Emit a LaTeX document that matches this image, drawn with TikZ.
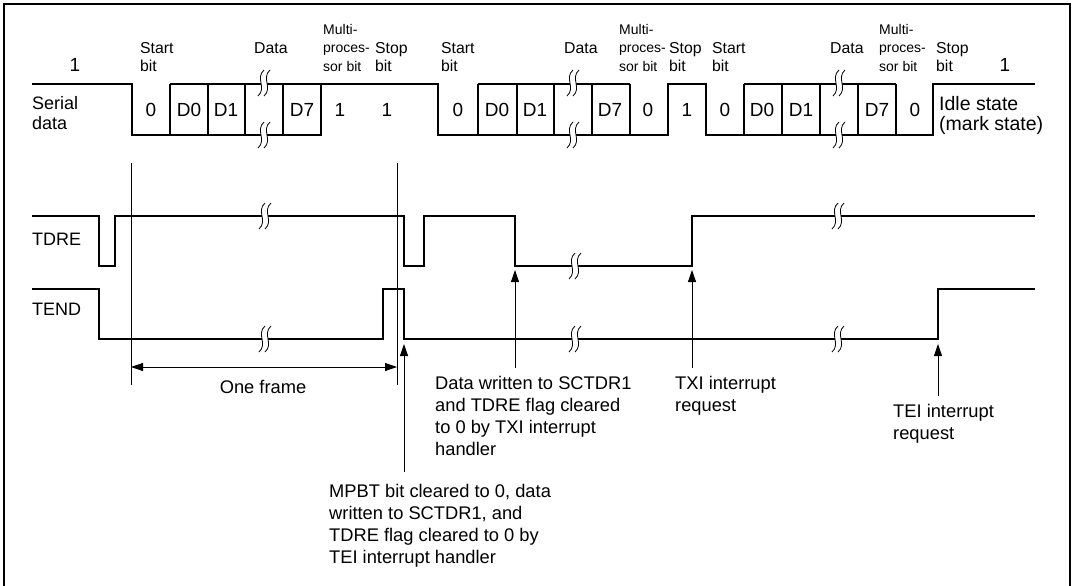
\documentclass[tikz,border=0pt]{standalone}
\usepackage{fontspec}
\setmainfont{Liberation Sans}
\usetikzlibrary{arrows.meta}
\begin{document}
\begin{tikzpicture}[x=1pt,y=-1pt,
  wave/.style={line width=1.4pt},
  sline/.style={line width=1.1pt},
  thinline/.style={line width=0.8pt},
  lbl/.style={font=\fontsize{18.3}{22}\selectfont, inner sep=0pt, align=left, anchor=north west},
  sidelbl/.style={font=\fontsize{18}{20}\selectfont, inner sep=0pt, align=left, anchor=north west},
  tlbl/.style={font=\fontsize{15.8}{18}\selectfont, inner sep=0pt, align=left, anchor=north west},
  mlbl/.style={font=\fontsize{14}{18.5}\selectfont, inner sep=0pt, align=left, anchor=north west},
  val/.style={font=\fontsize{19}{20}\selectfont, inner sep=0pt},
  uparrow/.style={line width=0.8pt, -{Triangle[length=12pt,width=8pt]}},
  brk/.pic={
    \fill[white] (0,-13) .. controls (-9,-5) and (3,5) .. (-6,13) -- (0,13) .. controls (9,5) and (-3,-5) .. (6,-13) -- cycle;
    \draw[line width=0.8pt] (0,-13) .. controls (-9,-5) and (3,5) .. (-6,13);
    \draw[line width=0.8pt] (6,-13) .. controls (-3,-5) and (9,5) .. (0,13);
  }]
\useasboundingbox (0,0) rectangle (1074,586);
% frame
\draw[line width=2pt] (4,587) -- (4,4) -- (1070,4) -- (1070,587);

% ---------- serial data ----------
\draw[sline] (32,84) -- (132,84) -- (132,135) -- (321,135) -- (321,84);
\draw[sline] (170,84) -- (438,84) -- (438,135) -- (668,135) -- (668,84) -- (706,84) -- (706,135) -- (933,135) -- (933,84) -- (1035,84);
\draw[sline] (478,84) -- (630,84);
\draw[sline] (744,84) -- (896,84);
\foreach \x in {170,208,245,283,478,517,554,592,630,744,782,820,858,896}
  \draw[sline] (\x,84) -- (\x,135);
\foreach \x in {264,573,839} {
  \pic at (\x,83) {brk};
  \pic at (\x,135) {brk};
}

% bit values
\foreach \x/\t in {151/0,189/D0,226/D1,302/D7,340/1,387/1,
                   458/0,497/D0,535/D1,610/D7,648/0,687/1,725/0,
                   762/D0,801/D1,877/D7,915/0}
  \node[val] at (\x,110) {\t};

% labels above
\node[val] (one1) at (75,65) {1};
\node[val] (one2) at (1005,65) {1};
\foreach \x/\n in {140/a,441/b,712/c}
  \node[tlbl] (start\n) at (\x,42) {Start\\bit};
\foreach \x/\n in {254/a,564/b,830/c}
  \node[tlbl] (data\n) at (\x,42) {Data};
\foreach \x/\n in {323/a,619/b,879/c}
  \node[mlbl] (mp\n) at (\x,24) {Multi-\\proces-\\sor bit};
\foreach \x/\n in {375/a,669/b,936/c}
  \node[tlbl] (stop\n) at (\x,42) {Stop\\bit};

\node[sidelbl] (serial) at (32,96) {Serial\\data};
\node[font=\fontsize{19.5}{20}\selectfont, inner sep=0pt, align=left, anchor=north west] (idle) at (939,96) {Idle state\\(mark state)};

% ---------- TDRE ----------
\node[sidelbl] (tdre) at (32,233) {TDRE};
\draw[wave] (32,216) -- (99,216) -- (99,266) -- (115,266) -- (115,216) -- (404,216) -- (404,266) -- (424,266) -- (424,216) -- (515,216) -- (515,266) -- (692,266) -- (692,216) -- (1035,216);
\pic at (265,216) {brk};
\pic at (575,266) {brk};
\pic at (838,216) {brk};

% ---------- TEND ----------
\node[sidelbl] (tend) at (32,303) {TEND};
\draw[wave] (32,289) -- (99,289) -- (99,339) -- (383,339) -- (383,289) -- (404,289) -- (404,339) -- (938,339) -- (938,289) -- (1035,289);
\pic at (265,339) {brk};
\pic at (575,339) {brk};
\pic at (838,339) {brk};

% frame markers
\coordinate (fa) at (131,163);
\coordinate (fb) at (131,385);
\coordinate (fc) at (397,163);
\coordinate (fd) at (397,385);
\draw[thinline] (fa) -- (fb);
\draw[thinline] (fc) -- (fd);
\coordinate (oa) at (131,367);
\coordinate (ob) at (397,367);
\draw[thinline, {Triangle[length=12pt,width=8pt]}-{Triangle[length=12pt,width=8pt]}] (oa) -- (ob);
\node[font=\fontsize{18.3}{20}\selectfont, inner sep=0pt] (oneframe) at (263,387) {One frame};

% up arrows
\coordinate (m1s) at (404,472); \coordinate (m1t) at (404,344);
\coordinate (d1s) at (515,368); \coordinate (d1t) at (515,270);
\coordinate (x1s) at (692,368); \coordinate (x1t) at (692,270);
\coordinate (e1s) at (938,396); \coordinate (e1t) at (938,344);
\draw[uparrow] (m1s) -- (m1t);
\draw[uparrow] (d1s) -- (d1t);
\draw[uparrow] (x1s) -- (x1t);
\draw[uparrow] (e1s) -- (e1t);

% annotations
\node[lbl] (datawr) at (435,376) {Data written to SCTDR1\\and TDRE flag cleared\\to 0 by TXI interrupt\\handler};
\node[lbl] (txi) at (675,376) {TXI interrupt\\request};
\node[lbl] (tei) at (893,404) {TEI interrupt\\request};
\node[lbl] (mpbt) at (329,484) {MPBT bit cleared to 0, data\\written to SCTDR1, and\\TDRE flag cleared to 0 by\\TEI interrupt handler};
\end{tikzpicture}
\end{document}
